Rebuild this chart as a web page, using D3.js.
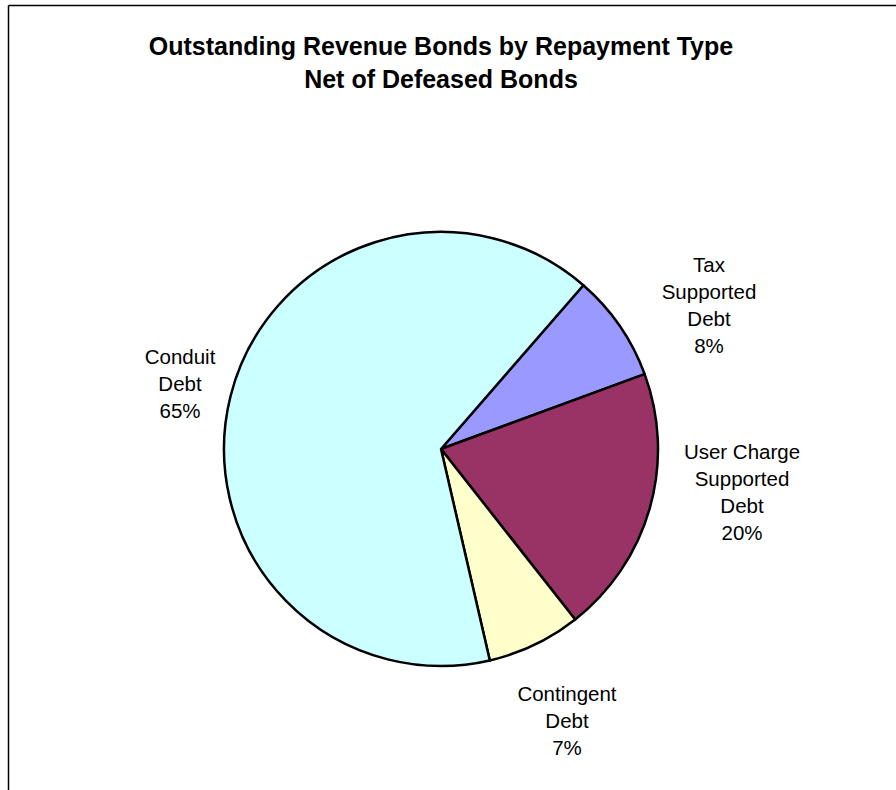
<!DOCTYPE html>
<html>
<head>
<meta charset="utf-8">
<script src="https://cdn.jsdelivr.net/npm/d3@7"></script>
<style>
  html, body { margin: 0; padding: 0; background: #fff; }
  svg { display: block; }
</style>
</head>
<body>
<svg id="chart" width="896" height="790"></svg>
<script>
// Outstanding revenue bonds, share by repayment type (percent)
const categories = ["Tax Supported Debt", "User Charge Supported Debt", "Contingent Debt", "Conduit Debt"];
const labelLines = [
  ["Tax", "Supported", "Debt"],
  ["User Charge", "Supported", "Debt"],
  ["Contingent", "Debt"],
  ["Conduit", "Debt"]
];
const shares = [8, 20, 7, 65];
const colors = ["#9999FF", "#993366", "#FFFFCC", "#CCFFFF"];
const titleLines = ["Outstanding Revenue Bonds by Repayment Type", "Net of Defeased Bonds"];

// label block centres relative to the pie centre (layout)
const labelOffsets = [[268, -144], [301, 43], [126, 271], [-261, -66]];

const svg = d3.select("#chart");
const W = 896, H = 790;
const cx = 441, cy = 449, radius = 217;

// chart area frame: top and left edges
svg.append("line").attr("x1", 8.5).attr("y1", 5.5).attr("x2", W).attr("y2", 5.5)
  .attr("stroke", "#000").attr("stroke-width", 1.5);
svg.append("line").attr("x1", 8.5).attr("y1", 5.5).attr("x2", 8.5).attr("y2", H)
  .attr("stroke", "#000").attr("stroke-width", 1.5);

// title
svg.append("g").selectAll("text").data(titleLines).join("text")
  .attr("x", cx)
  .attr("y", (d, i) => 55 + i * 33)
  .attr("text-anchor", "middle")
  .attr("font-family", "Arial, 'Liberation Sans', sans-serif")
  .attr("font-weight", "bold")
  .attr("font-size", 25)
  .attr("fill", "#000")
  .text(d => d);

const data = categories.map((c, i) => ({ name: c, value: shares[i], color: colors[i], lines: labelLines[i], off: labelOffsets[i] }));

const startDeg = 41;
const pie = d3.pie().sort(null).value(d => d.value)
  .startAngle(startDeg * Math.PI / 180)
  .endAngle(startDeg * Math.PI / 180 + 2 * Math.PI);
const arc = d3.arc().innerRadius(0).outerRadius(radius);

const g = svg.append("g").attr("transform", `translate(${cx},${cy})`);
g.selectAll("path").data(pie(data)).join("path")
  .attr("d", arc)
  .attr("fill", d => d.data.color)
  .attr("stroke", "#000")
  .attr("stroke-width", 2.5)
  .attr("stroke-linejoin", "round");

// data labels: category name lines followed by the percentage
const lineH = 27;
const labels = g.selectAll("g.label").data(pie(data)).join("g").attr("class", "label");
labels.each(function (d) {
  const lines = d.data.lines.concat([d3.format("d")(d.data.value) + "%"]);
  const n = lines.length;
  const [ox, oy] = d.data.off;
  d3.select(this).selectAll("text").data(lines).join("text")
    .attr("x", ox)
    .attr("y", (t, i) => oy + (i - (n - 1) / 2) * lineH + 7.5)
    .attr("text-anchor", "middle")
    .attr("font-family", "Arial, 'Liberation Sans', sans-serif")
    .attr("font-size", 20.5)
    .attr("fill", "#000")
    .text(t => t);
});
</script>
</body>
</html>
